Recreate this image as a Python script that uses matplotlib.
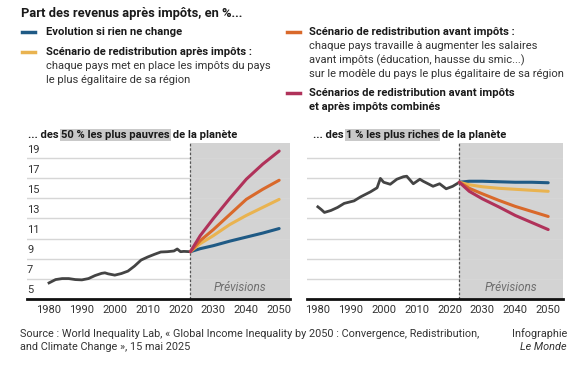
import matplotlib.pyplot as plt
from matplotlib.lines import Line2D

W, H = 576, 366

# historical series (share of after-tax income, %)
HIST_YEARS_POOR = [1980, 1982, 1984, 1986, 1988, 1990, 1992, 1994, 1996, 1997, 1998,
                   2000, 2002, 2004, 2006, 2008, 2010, 2012, 2014, 2016, 2018, 2019,
                   2020, 2021, 2023]
HIST_POOR = [6.6, 6.93, 7.03, 7.03, 6.93, 6.9, 7.03, 7.33, 7.55, 7.6, 7.5,
             7.37, 7.53, 7.77, 8.27, 8.87, 9.17, 9.43, 9.67, 9.7, 9.77, 9.97,
             9.7, 9.73, 9.7]

HIST_YEARS_RICH = [1980, 1981, 1982, 1984, 1986, 1988, 1991, 1993, 1996, 1998, 1999,
                   2000, 2002, 2004, 2006, 2007, 2009, 2011, 2012, 2015, 2017, 2019,
                   2021, 2023]
HIST_RICH = [14.16, 13.9, 13.6, 13.8, 14.1, 14.5, 14.75, 15.15, 15.65, 16.05, 16.98,
             16.6, 16.4, 16.9, 17.15, 17.2, 16.45, 16.9, 16.7, 16.2, 16.45, 15.95,
             16.2, 16.6]

PROJ_YEARS = [2023, 2026, 2030, 2035, 2040, 2045, 2050]
POOR_PROJ = {
    "base": [9.7, 10.0, 10.3, 10.75, 11.15, 11.55, 12.0],
    "after": [9.7, 10.5, 11.3, 12.4, 13.3, 14.1, 14.9],
    "before": [9.7, 10.8, 11.9, 13.4, 14.9, 15.9, 16.8],
    "combined": [9.7, 11.3, 13.0, 15.0, 16.9, 18.4, 19.7],
}
RICH_PROJ = {
    "base": [16.6, 16.7, 16.7, 16.65, 16.6, 16.6, 16.55],
    "after": [16.6, 16.35, 16.15, 16.0, 15.9, 15.8, 15.7],
    "before": [16.6, 16.0, 15.45, 14.8, 14.2, 13.7, 13.2],
    "combined": [16.6, 15.7, 14.95, 14.15, 13.3, 12.6, 11.9],
}

Y_TICKS = [5, 7, 9, 11, 13, 15, 17, 19]
X_TICKS = [1980, 1990, 2000, 2010, 2020, 2030, 2040, 2050]

COLORS = {
    "base": "#1f5a85",
    "after": "#e9b350",
    "before": "#d9692b",
    "combined": "#b0325a",
}
HIST_COLOR = "#444444"
SHADE = "#d3d3d3"

plt.rcParams["font.family"] = ["Roboto", "DejaVu Sans"]


def fx(px):
    return px / W


def fy(py):
    return 1 - py / H


def setup_axes(ax, xlim, show_labels):
    ax.set_xlim(*xlim)
    ax.set_ylim(5, 20.5)
    ax.axvspan(2023, xlim[1], color=SHADE, zorder=0, lw=0)
    for v in Y_TICKS[1:]:
        ax.axhline(v, color="#d6d6d6", lw=1, zorder=0.5)
    ax.axvline(2023, color="#555555", lw=0.9, ls=(0, (2, 1.5)), zorder=1)
    for s in ["top", "right", "left"]:
        ax.spines[s].set_visible(False)
    ax.spines["bottom"].set_linewidth(2)
    ax.spines["bottom"].set_color("#111111")
    ax.set_yticks([])
    ax.set_xticks(X_TICKS)
    ax.tick_params(axis="x", length=0, pad=4, labelsize=8, labelcolor="#333333")
    if show_labels:
        tr = ax.get_yaxis_transform()
        for v in Y_TICKS:
            ax.text(0.0, v + 0.35, str(v), transform=tr, ha="left", va="bottom",
                    fontsize=8, color="#333333")
    ax.text((2023 + xlim[1]) / 2, 5.5, "Prévisions", ha="center", va="bottom",
            fontsize=8.5, style="italic", color="#6e6e6e")


def draw(ax, years, hist, proj):
    ax.plot(years, hist, color=HIST_COLOR, lw=2, zorder=3, solid_joinstyle="round")
    for key in ["base", "after", "before", "combined"]:
        ax.plot(PROJ_YEARS, proj[key], color=COLORS[key], lw=2.2, zorder=3,
                solid_capstyle="round")


fig = plt.figure(figsize=(W / 100, H / 100), dpi=100)

ax1 = fig.add_axes([fx(27), fy(299), fx(290 - 27), (299 - 143) / H])
ax2 = fig.add_axes([fx(307), fy(299), fx(563 - 307), (299 - 143) / H])
setup_axes(ax1, (1973.3, 2053.3), True)
setup_axes(ax2, (1976.7, 2054.5), False)
draw(ax1, HIST_YEARS_POOR, HIST_POOR, POOR_PROJ)
draw(ax2, HIST_YEARS_RICH, HIST_RICH, RICH_PROJ)

# title and legend
fig.text(fx(21), fy(14), "Part des revenus après impôts, en %...", fontsize=9.3,
         weight="bold", va="center", color="#1a1a1a")

HEAD = 8.1
BODY = 8.0
legend = [
    ("base", 22, 46, 32, ["Evolution si rien ne change"], []),
    ("after", 22, 46, 52, ["Scénario de redistribution après impôts :"],
     ["chaque pays met en place les impôts du pays",
      "le plus égalitaire de sa région"]),
    ("before", 287, 309, 32, ["Scénario de redistribution avant impôts :"],
     ["chaque pays travaille à augmenter les salaires",
      "avant impôts (éducation, hausse du smic...)",
      "sur le modèle du pays le plus égalitaire de sa région"]),
    ("combined", 287, 309, 93, ["Scénarios de redistribution avant impôts",
                                "et après impôts combinés"], []),
]
for key, lx, tx, ty, head, body in legend:
    fig.add_artist(Line2D([fx(lx), fx(lx + 13)], [fy(ty), fy(ty)],
                          color=COLORS[key], lw=2.5))
    row = 0
    for line in head:
        fig.text(fx(tx), fy(ty + 14 * row), line, fontsize=HEAD, weight="bold",
                 va="center", color="#1a1a1a")
        row += 1
    for line in body:
        fig.text(fx(tx), fy(ty + 14 * row), line, fontsize=BODY, va="center",
                 color="#333333")
        row += 1

# panel subtitles with grey highlight
for x0, parts in [(28, ["... des ", "50 % les plus pauvres", " de la planète"]),
                  (313, ["... des ", "1 % les plus riches", " de la planète"])]:
    t = fig.text(fx(x0), fy(135), parts[0], fontsize=8.1, weight="bold",
                 va="center", color="#1a1a1a")
    t2 = plt.annotate(parts[1], xy=(1, 0.5), xycoords=t, va="center", ha="left",
                      fontsize=8.1, weight="bold", color="#1a1a1a",
                      bbox=dict(boxstyle="square,pad=0.08", fc="#c9c9c9",
                                ec="none"),
                      annotation_clip=False)
    plt.annotate(parts[2], xy=(1, 0.5), xycoords=t2, va="center", ha="left",
                 fontsize=8.1, weight="bold", color="#1a1a1a",
                 annotation_clip=False)

# source
SRC = 7.8
fig.text(fx(20), fy(334), "Source : World Inequality Lab, « Global Income Inequality "
         "by 2050 : Convergence, Redistribution,", fontsize=SRC, va="center",
         color="#333333")
fig.text(fx(20), fy(347), "and Climate Change », 15 mai 2025", fontsize=SRC,
         va="center", color="#333333")
fig.text(fx(567), fy(334), "Infographie", fontsize=SRC, va="center", ha="right",
         color="#333333")
fig.text(fx(567), fy(347), "Le Monde", fontsize=SRC, va="center", ha="right",
         style="italic", color="#333333")

fig.savefig("out.png", dpi=100)
